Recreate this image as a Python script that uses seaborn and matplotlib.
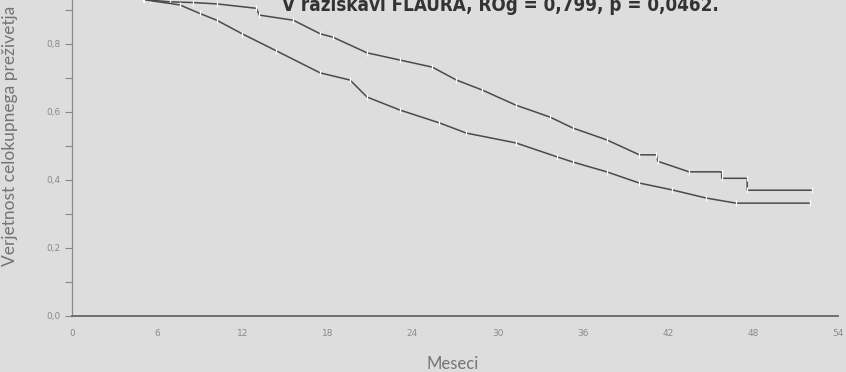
import numpy as np
import pandas as pd
import matplotlib
matplotlib.use("Agg")
import matplotlib.pyplot as plt
import seaborn as sns

# Data (FLAURA, overall survival)
months_upper = [0, 1, 2, 3, 4, 5, 5.5, 6.9, 8.5, 10.2, 13.0, 13.2, 15.6, 17.5, 18.4,
                20.8, 23.1, 25.4, 27.1, 28.9, 31.3, 33.7, 35.3, 37.7, 40.0, 41.2,
                41.3, 43.5, 45.8, 45.8, 47.6, 47.6, 52.2]
surv_upper = [1.0, 0.995, 0.985, 0.97, 0.955, 0.94, 0.929, 0.924, 0.922, 0.918, 0.905,
              0.885, 0.87, 0.83, 0.82, 0.774, 0.753, 0.732, 0.694, 0.665, 0.62, 0.585,
              0.553, 0.518, 0.474, 0.474, 0.455, 0.424, 0.424, 0.405, 0.405, 0.37, 0.37]

months_lower = [0, 1, 2, 3, 4, 5, 5.1, 7.6, 9.0, 10.2, 12.0, 14.4, 17.5, 19.6, 20.8,
                23.1, 25.9, 27.8, 31.3, 34.2, 35.3, 37.7, 40.0, 42.3, 44.7, 46.8, 52.0]
surv_lower = [1.0, 0.99, 0.975, 0.96, 0.945, 0.932, 0.93, 0.915, 0.89, 0.87, 0.83, 0.78,
              0.715, 0.694, 0.644, 0.606, 0.568, 0.538, 0.509, 0.468, 0.453, 0.424,
              0.391, 0.371, 0.347, 0.332, 0.332]

x_ticks = [0, 6, 12, 18, 24, 30, 36, 42, 48, 54]
y_ticks = [0.0, 0.2, 0.4, 0.6, 0.8]
y_ticklabels = ["0,0", "0,2", "0,4", "0,6", "0,8"]
title = "V raziskavi FLAURA, ROg = 0,799, p = 0,0462."

df = pd.concat([
    pd.DataFrame({"Meseci": months_upper, "Prezivetje": surv_upper, "Skupina": "A"}),
    pd.DataFrame({"Meseci": months_lower, "Prezivetje": surv_lower, "Skupina": "B"}),
], ignore_index=True)

sns.set_style("ticks")
bg = "#dddddd"
fig = plt.figure(figsize=(8.46, 3.72), dpi=100, facecolor=bg)
ax = fig.add_axes([72 / 846, 56 / 372, (838 - 72) / 846, 316 / 372])
ax.set_facecolor(bg)

sns.lineplot(data=df, x="Meseci", y="Prezivetje", hue="Skupina",
             palette=["#4a4a4a", "#4a4a4a"], estimator=None, sort=False,
             linewidth=1.1, marker="|", markersize=4, markeredgewidth=0.9,
             legend=False, ax=ax)

ax.set_xlim(0, 54)
ax.set_ylim(0, 316 / 340)
ax.set_xticks(x_ticks)
ax.set_xticklabels([str(t) for t in x_ticks])
ax.set_yticks(y_ticks)
ax.set_yticklabels(y_ticklabels)
ax.set_yticks([0.1, 0.3, 0.5, 0.7, 0.9], minor=True)
ax.tick_params(axis="y", which="both", length=5, width=0.8, color="#888888",
               labelsize=6.5, labelcolor="#8a8a8a", pad=3)
ax.tick_params(axis="x", length=0, labelsize=6.5, labelcolor="#8a8a8a", pad=9)

for side in ["top", "right"]:
    ax.spines[side].set_visible(False)
ax.spines["left"].set_color("#8a8a8a")
ax.spines["left"].set_linewidth(0.9)
ax.spines["bottom"].set_color("#666666")
ax.spines["bottom"].set_linewidth(1.3)

ax.set_xlabel("Meseci", fontsize=12, color="#747474", family="Lato")
ax.xaxis.set_label_coords((453 - 72) / (838 - 72), -40 / 316)
ax.set_ylabel("Verjetnost celokupnega preživetja", fontsize=12.5, color="#747474",
              family="Lato")
ax.yaxis.set_label_coords(-54 / (838 - 72), (316 - 136) / 316)

fig.text(500 / 846, (372 - 11) / 372, title, ha="center", va="baseline",
         fontsize=13.5, fontweight="bold", fontstretch="condensed", color="#333333",
         family="DejaVu Sans")

fig.savefig("out.png", dpi=100, facecolor=bg)
